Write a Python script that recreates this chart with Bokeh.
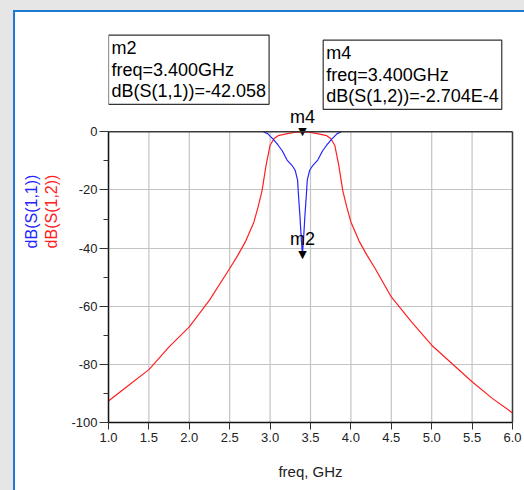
from bokeh.plotting import figure
from bokeh.models import (LinearAxis, FixedTicker, NumeralTickFormatter, Label,
                          ColumnDataSource, Span)
from bokeh.core.properties import value
from bokeh.embed import file_html
from bokeh.resources import INLINE

# ---- data ----
freq_s12 = [1.0, 1.25, 1.5, 1.75, 2.0, 2.25, 2.5, 2.6, 2.7, 2.8, 2.85, 2.9, 2.95, 3.0, 3.05,
            3.1, 3.2, 3.3, 3.4, 3.5, 3.6, 3.7, 3.75, 3.8, 3.85, 3.9, 3.95, 4.0, 4.1, 4.2,
            4.3, 4.5, 4.75, 5.0, 5.25, 5.5, 5.75, 6.0]
s12_db = [-92.6, -87.2, -81.8, -74.0, -67.1, -57.9, -47.0, -42.5, -37.5, -31.0, -26.0,
          -20.3, -11.5, -4.6, -2.3, -1.3, -0.7, -0.2, -0.0003, -0.2, -0.7, -1.3, -2.3,
          -4.6, -11.5, -20.3, -26.0, -31.0, -37.5, -42.5, -47.0, -56.8, -65.4, -73.4,
          -79.7, -86.0, -91.7, -96.7]

freq_s11 = [2.92, 2.97, 3.04, 3.10, 3.15, 3.21, 3.27, 3.31, 3.34, 3.35, 3.37, 3.38,
            3.39, 3.40, 3.41, 3.42, 3.43, 3.45, 3.46, 3.49, 3.53, 3.59, 3.65, 3.70,
            3.76, 3.83, 3.88]
s11_db = [0.0, -0.6, -2.6, -4.6, -6.5, -9.7, -11.5, -13.2, -16.6, -21.2, -29.2, -34.0,
          -38.5, -42.058, -38.5, -34.0, -29.2, -21.2, -16.6, -13.2, -11.5, -9.7, -6.5,
          -4.6, -2.6, -0.6, 0.0]

x_ticks = [1.0, 1.5, 2.0, 2.5, 3.0, 3.5, 4.0, 4.5, 5.0, 5.5, 6.0]
y_ticks = [0, -20, -40, -60, -80, -100]
y_minor_ticks = [-10, -30, -50, -70, -90]
x_min, x_max = 1.0, 6.0
y_min, y_max = -100, 0

marker_names = ["m2", "m4"]
marker_freq = [3.4, 3.4]
marker_db = [-42.058, -2.704e-4]
marker_trace = ["dB(S(1,1))", "dB(S(1,2))"]
marker_readout = ["-42.058", "-2.704E-4"]
marker_freq_text = ["3.400GHz", "3.400GHz"]

# ---- styling / layout ----
FONT = "Liberation Sans"
BLUE = "#2424ff"
RED = "#ff2020"
FRAME_BLUE = "#1f78d1"
STRIP = "#e6e6e6"
VIEW_TOP = 45.2          # headroom above 0 dB for the marker read-outs
BOX_POS = [(1.0, 33.3), (3.657, 31.55)]

p = figure(width=524, height=490, x_range=(x_min, x_max), y_range=(y_min, VIEW_TOP),
           output_backend="svg", toolbar_location=None,
           min_border_left=108, min_border_right=12, min_border_top=0,
           min_border_bottom=68)
p.styles = {
    "background": (
        f"linear-gradient({FRAME_BLUE},{FRAME_BLUE}) 13px 10px / 2px 100% no-repeat,"
        f"linear-gradient({FRAME_BLUE},{FRAME_BLUE}) 13px 10px / 100% 2px no-repeat,"
        f"linear-gradient({STRIP},{STRIP}) 0 0 / 100% 10px no-repeat,"
        f"linear-gradient({STRIP},{STRIP}) 0 0 / 13px 100% no-repeat,"
        "white"
    ),
}
p.background_fill_color = None
p.border_fill_color = None
p.outline_line_color = None

# grid: horizontal via ygrid, vertical drawn only over the data area
p.xgrid.visible = False
p.ygrid.ticker = FixedTicker(ticks=y_ticks)
p.ygrid.grid_line_color = "#c4c4c4"
p.ygrid.grid_line_width = 1.2
p.segment(x0=x_ticks, y0=[y_min] * len(x_ticks), x1=x_ticks, y1=[y_max] * len(x_ticks),
          line_color="#c4c4c4", line_width=1.2)

# x axis
xa = p.xaxis[0]
xa.ticker = FixedTicker(ticks=x_ticks)
xa.formatter = NumeralTickFormatter(format="0.0")
xa.axis_label = "freq, GHz"
xa.axis_label_text_font = FONT
xa.axis_label_text_font_size = "15px"
xa.axis_label_text_font_style = "normal"
xa.axis_label_text_color = "#222222"
xa.axis_label_standoff = 18
xa.major_label_text_font = FONT
xa.major_label_text_font_size = "13px"
xa.major_label_text_color = "#222222"
xa.major_label_standoff = 3
xa.major_tick_out = 7
xa.major_tick_in = 0
xa.minor_tick_line_color = None
xa.axis_line_color = "#111111"
xa.axis_line_width = 1.5
xa.major_tick_line_color = "#333333"

# y axis
ya = p.yaxis[0]
ya.bounds = (y_min, y_max)
ya.ticker = FixedTicker(ticks=y_ticks, minor_ticks=y_minor_ticks)
ya.formatter = NumeralTickFormatter(format="0")
ya.major_label_text_font = FONT
ya.major_label_text_font_size = "13px"
ya.major_label_text_color = "#222222"
ya.major_label_standoff = 2
ya.major_tick_out = 9
ya.major_tick_in = 0
ya.minor_tick_out = 5
ya.minor_tick_in = 0
ya.axis_line_color = "#111111"
ya.axis_line_width = 1.5
ya.major_tick_line_color = "#333333"
ya.minor_tick_line_color = "#333333"

# right border of the plot box as a bare axis
rax = LinearAxis(ticker=FixedTicker(ticks=[]), bounds=(y_min, y_max))
rax.axis_line_color = "#3a3a3a"
rax.axis_line_width = 1.5
rax.major_tick_line_color = None
rax.minor_tick_line_color = None
p.add_layout(rax, "right")

# top border of the plot box
p.add_layout(Span(location=y_max, dimension="width", line_color="#3a3a3a", line_width=1.5))

# two coloured axis titles as label-only axes
for txt, col, standoff in [(marker_trace[1], RED, 9), (marker_trace[0], BLUE, 0)]:
    ax = LinearAxis(ticker=FixedTicker(ticks=[]), axis_label=txt, bounds=(y_min, y_max))
    ax.axis_line_color = None
    ax.major_tick_line_color = None
    ax.minor_tick_line_color = None
    ax.axis_label_text_color = col
    ax.axis_label_text_font = FONT
    ax.axis_label_text_font_size = "16px"
    ax.axis_label_text_font_style = "normal"
    ax.axis_label_standoff = standoff
    p.add_layout(ax, "left")

# traces
p.line(freq_s12, s12_db, line_color=RED, line_width=1.2)
p.line(freq_s11, s11_db, line_color=BLUE, line_width=1.2)

# marker triangles and names
msrc = ColumnDataSource(dict(x=marker_freq, y=marker_db,
                             tri=["\u25BC"] * len(marker_names)))
p.text(x="x", y="y", text="tri", source=msrc, text_font=value("DejaVu Sans"),
       text_font_size="11px", text_align="center", text_baseline="alphabetic",
       text_color="black")
for i in range(len(marker_names)):
    p.add_layout(Label(x=marker_freq[i], y=marker_db[i], text=marker_names[i],
                       text_font=FONT, text_font_size="18px", text_align="center",
                       text_baseline="alphabetic", text_color="black", y_offset=15))

# marker read-out boxes
for i in range(len(marker_names)):
    txt = f"{marker_names[i]}\nfreq={marker_freq_text[i]}\n{marker_trace[i]}={marker_readout[i]}"
    lab = Label(x=BOX_POS[i][0], y=BOX_POS[i][1], text=txt, text_font=FONT,
                text_font_size="18px", text_align="left", text_baseline="top",
                text_line_height=1.08, text_color="black",
                border_line_color="#333333", border_line_width=1.2,
                background_fill_color="white", padding=3)
    p.add_layout(lab)

open("out.html", "w").write(file_html(p, INLINE))
